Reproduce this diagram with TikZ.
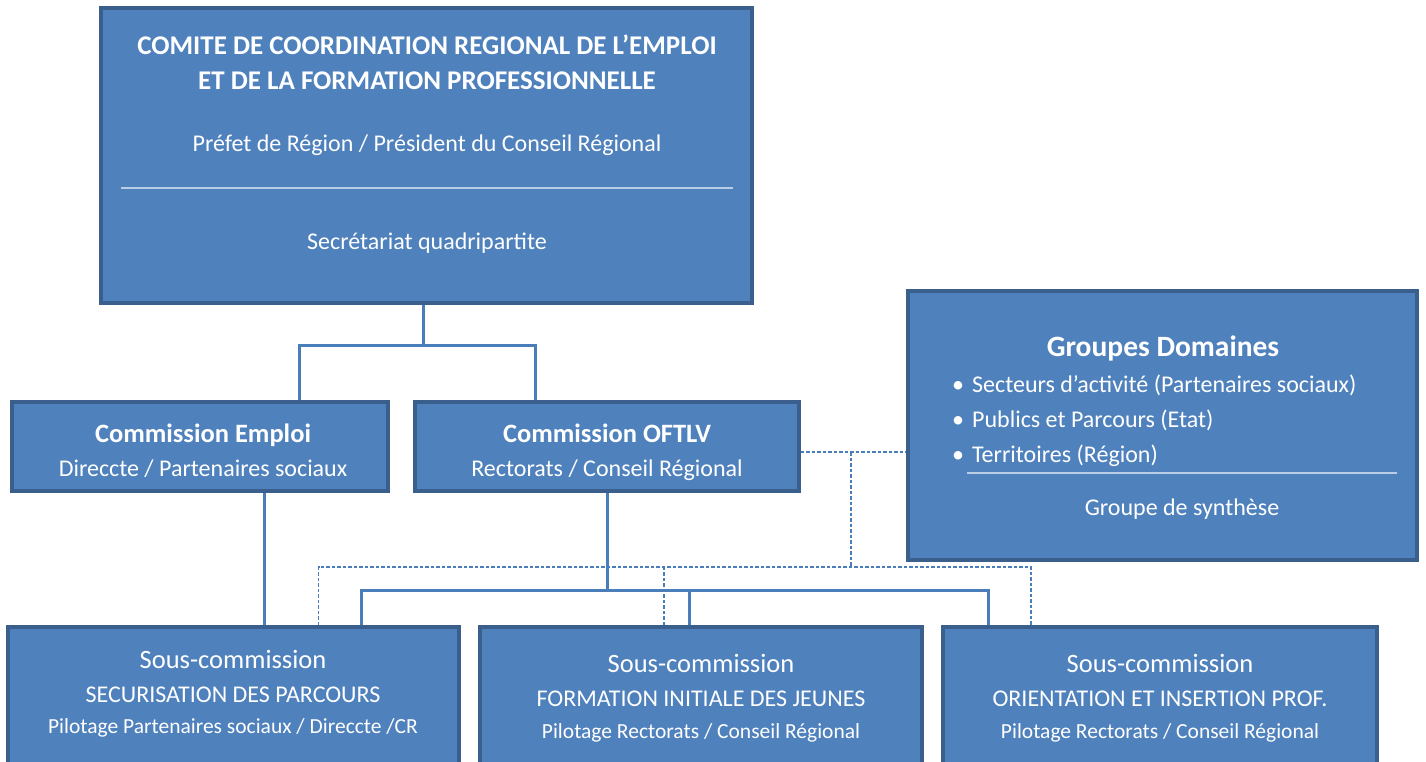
\documentclass[tikz,border=0pt]{standalone}
\usepackage{fontspec}
\setmainfont{Carlito}
\usetikzlibrary{positioning}
\definecolor{orgfill}{HTML}{4F81BD}
\definecolor{orgedge}{HTML}{3A5F8C}
\definecolor{orgline}{HTML}{4A7EBB}
\definecolor{orgsep}{HTML}{B9CDE5}

\begin{document}
\begin{tikzpicture}[x=1pt, y=-1pt,
  every node/.style={text=white, inner sep=0pt},
  orgbox/.style={rectangle, draw=orgedge, fill=orgfill, line width=3.5pt},
  boxtitle/.style={anchor=base, font=\fontsize{26.5}{30}\selectfont\bfseries},
  boxtext/.style={anchor=base, font=\fontsize{24}{28}\selectfont},
  subname/.style={anchor=base, font=\fontsize{26.5}{30}\selectfont},
  subpilot/.style={anchor=base, font=\fontsize{21.5}{25}\selectfont},
  sepline/.style={draw=orgsep, line width=1.5pt},
  conn/.style={draw=orgline, line width=3pt},
  dashconn/.style={draw=orgline, line width=1.3pt, dash pattern=on 3.5pt off 2pt},
]
\useasboundingbox (0,0) rectangle (1426,761);
\clip (0,0) rectangle (1426,761);

% Boxes
\node[orgbox, minimum width=651pt, minimum height=295pt] (comite) at (426.5,155.5) {};
\node[orgbox, minimum width=376pt, minimum height=89pt] (emploi) at (200,446.5) {};
\node[orgbox, minimum width=384pt, minimum height=89pt] (oftlv) at (607,446.5) {};
\node[orgbox, minimum width=509pt, minimum height=269pt] (groupes) at (1162.5,425.5) {};
\node[orgbox, minimum width=451pt, minimum height=180pt] (sub1) at (233.5,717) {};
\node[orgbox, minimum width=442pt, minimum height=180pt] (sub2) at (701,717) {};
\node[orgbox, minimum width=434pt, minimum height=180pt] (sub3) at (1160,717) {};

% Comite
\node[boxtitle, font=\fontsize{27}{31}\selectfont\bfseries] (comiteA) at (427,54.5) {COMITE DE COORDINATION REGIONAL DE L’EMPLOI};
\node[boxtitle, font=\fontsize{27}{31}\selectfont\bfseries] (comiteB) at (427,89.5) {ET DE LA FORMATION PROFESSIONNELLE};
\node[boxtext] (comiteC) at (427,151.5) {Préfet de Région / Président du Conseil Régional};
\draw[sepline] (121,188) -- (733,188);
\node[boxtext] (comiteD) at (427,249.5) {Secrétariat quadripartite};

% Commissions
\node[boxtitle] (emploiA) at (203,442) {Commission Emploi};
\node[boxtext] (emploiB) at (203,476.5) {Direccte / Partenaires sociaux};
\node[boxtitle] (oftlvA) at (607,442) {Commission OFTLV};
\node[boxtext] (oftlvB) at (607,476.5) {Rectorats / Conseil Régional};

% Groupes Domaines
\node[boxtitle, font=\fontsize{29.5}{33}\selectfont\bfseries] (groupesA) at (1163,356) {Groupes Domaines};
\node[boxtext, anchor=base west] (gd1) at (952,392.5) {•\hspace{8pt}Secteurs d’activité (Partenaires sociaux)};
\node[boxtext, anchor=base west] (gd2) at (952,427.5) {•\hspace{8pt}Publics et Parcours (Etat)};
\node[boxtext, anchor=base west] (gd3) at (952,462.5) {•\hspace{8pt}Territoires (Région)};
\draw[sepline] (967,473) -- (1397,473);
\node[boxtext] (groupesB) at (1182,515.5) {Groupe de synthèse};

% Sous-commissions
\node[subname] (sub1A) at (233,668) {Sous-commission};
\node[boxtext] (sub1B) at (233,702.5) {SECURISATION DES PARCOURS};
\node[subpilot] (sub1C) at (233,733.5) {Pilotage Partenaires sociaux / Direccte /CR};
\node[subname] (sub2A) at (701,672) {Sous-commission};
\node[boxtext] (sub2B) at (701,706.5) {FORMATION INITIALE DES JEUNES};
\node[subpilot] (sub2C) at (701,738.5) {Pilotage Rectorats / Conseil Régional};
\node[subname] (sub3A) at (1160,672) {Sous-commission};
\node[boxtext] (sub3B) at (1160,706.5) {ORIENTATION ET INSERTION PROF.};
\node[subpilot] (sub3C) at (1160,738.5) {Pilotage Rectorats / Conseil Régional};

% Solid links
\coordinate (bus1) at (423,345);
\draw[conn] (comite.south -| bus1) -- (bus1);
\draw[conn] ([xshift=99pt]emploi.north) |- (bus1) -| ([xshift=-72pt]oftlv.north);
\draw[conn] ([xshift=64pt]emploi.south) -- ([xshift=64pt]emploi.south |- sub1.north);
\draw[conn] (oftlv.south) -- ++(0,98) coordinate (bus2);
\draw[conn] ([xshift=128pt]sub1.north) |- (bus2) -| ([xshift=-172pt]sub3.north);
\draw[conn] ([xshift=-12pt]sub2.north) -- ([xshift=-12pt]sub2.north |- bus2);

% Dashed links to Groupes Domaines
\coordinate (dj) at (851,452);
\coordinate (dbus) at (851,567);
\draw[dashconn] ([yshift=-5.5pt]oftlv.east) -- ([yshift=-5.5pt]oftlv.east -| groupes.west);
\draw[dashconn] (dj) -- (dbus);
\draw[dashconn] ([xshift=85pt]sub1.north) |- (dbus) -| ([xshift=-129pt]sub3.north);
\draw[dashconn] ([xshift=-37pt]sub2.north) -- ([xshift=-37pt]sub2.north |- dbus);

\end{tikzpicture}
\end{document}
